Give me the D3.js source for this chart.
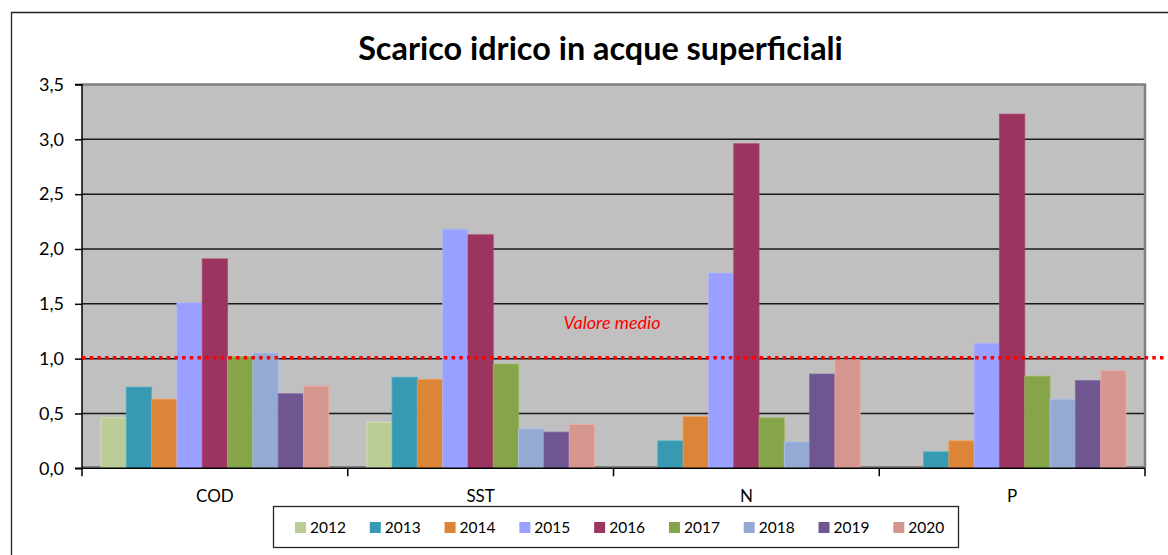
<!DOCTYPE html>
<html>
<head>
<meta charset="utf-8">
<script src="https://cdn.jsdelivr.net/npm/d3@7"></script>
<style>
  html, body { margin: 0; padding: 0; background: #fff; }
  svg { display: block; }
  text { font-family: Lato, "Open Sans", sans-serif; }
</style>
</head>
<body>
<svg id="chart" width="1168" height="555"></svg>
<script>
const categories = ["COD", "SST", "N", "P"];
const years = ["2012", "2013", "2014", "2015", "2016", "2017", "2018", "2019", "2020"];
const v2012 = [0.46, 0.42, 0.00, 0.00];
const v2013 = [0.74, 0.83, 0.25, 0.15];
const v2014 = [0.63, 0.81, 0.47, 0.25];
const v2015 = [1.51, 2.18, 1.78, 1.14];
const v2016 = [1.91, 2.13, 2.96, 3.23];
const v2017 = [1.02, 0.95, 0.46, 0.84];
const v2018 = [1.05, 0.36, 0.24, 0.63];
const v2019 = [0.68, 0.33, 0.86, 0.80];
const v2020 = [0.75, 0.40, 0.99, 0.89];
const yTicks = [0, 0.5, 1.0, 1.5, 2.0, 2.5, 3.0, 3.5];
const meanValue = 1.0;
const meanLabel = "Valore medio";
const title = "Scarico idrico in acque superficiali";

const seriesValues = [v2012, v2013, v2014, v2015, v2016, v2017, v2018, v2019, v2020];
const colors = ["#bbcc96", "#3799b2", "#dc8437", "#9aa0ff", "#9b3560", "#86a44a", "#95aad2", "#6f5690", "#d59690"];

const svg = d3.select("#chart");
const plot = { left: 82, right: 1145, top: 84.5, bottom: 468.3 };

// outer frame
svg.append("path")
  .attr("d", `M11.5,1200 L11.5,12.5 L1300,12.5`)
  .attr("fill", "none").attr("stroke", "#222").attr("stroke-width", 1.3);

const x = d3.scaleBand().domain(categories).range([plot.left, plot.right]).paddingInner(0).paddingOuter(0);
const xi = d3.scaleBand().domain(years).range([0, x.bandwidth()]).paddingInner(0).paddingOuter(0.75);
const y = d3.scaleLinear().domain([0, 3.5]).range([plot.bottom, plot.top]);

// plot background
svg.append("rect")
  .attr("x", plot.left).attr("y", plot.top)
  .attr("width", plot.right - plot.left).attr("height", plot.bottom - plot.top)
  .attr("fill", "#c0c0c0");

// gridlines
svg.append("g").selectAll("line").data(yTicks.filter(d => d > 0 && d < 3.5)).join("line")
  .attr("x1", plot.left).attr("x2", plot.right)
  .attr("y1", d => y(d)).attr("y2", d => y(d))
  .attr("stroke", "#1a1a1a").attr("stroke-width", 1.5);

// top & right border of plot area
svg.append("path")
  .attr("d", `M${plot.left},${plot.top} L${plot.right},${plot.top} L${plot.right},${plot.bottom}`)
  .attr("fill", "none").attr("stroke", "#808080").attr("stroke-width", 2.5);

// floor line
svg.append("line")
  .attr("x1", plot.left).attr("x2", plot.right)
  .attr("y1", y(0) - 1.5).attr("y2", y(0) - 1.5)
  .attr("stroke", "#808080").attr("stroke-width", 1.5);

// bars
const groups = svg.append("g").selectAll("g").data(years).join("g");
groups.each(function(yr, si) {
  d3.select(this).selectAll("rect").data(categories.map((c, ci) => ({ c, v: seriesValues[si][ci] })))
    .join("rect")
    .attr("x", d => x(d.c) + xi(yr))
    .attr("width", xi.bandwidth())
    .attr("y", d => y(d.v))
    .attr("height", d => y(0) - y(d.v))
    .attr("fill", colors[si])
    .attr("stroke", d3.color(colors[si]).brighter(0.4))
    .attr("stroke-opacity", 0.7)
    .attr("stroke-width", 1);
});

// y axis
const yAxis = d3.axisLeft(y).tickValues(yTicks).tickSize(7).tickPadding(11)
  .tickFormat(d => d3.format(".1f")(d).replace(".", ","));
const yg = svg.append("g").attr("transform", `translate(${plot.left},0)`).call(yAxis);
yg.select(".domain").attr("stroke", "#000").attr("stroke-width", 1.5).attr("d", `M-7,${plot.top}H0V${plot.bottom}H-7`);
yg.selectAll(".tick line").attr("stroke", "#000").attr("stroke-width", 1.5);
yg.selectAll(".tick text").attr("font-size", 18).attr("fill", "#000").attr("font-family", "Lato");

// x axis
const xAxis = d3.axisBottom(x).tickSize(0).tickPadding(0);
const xg = svg.append("g").attr("transform", `translate(0,${plot.bottom})`).call(xAxis);
xg.select(".domain").attr("stroke", "#000").attr("stroke-width", 1.5).attr("d", `M${plot.left},0H${plot.right}`);
xg.selectAll(".tick text").attr("font-size", 17).attr("fill", "#000").attr("font-family", "Lato").attr("dy", "0").attr("y", 34);
// boundary ticks between categories
const bounds = categories.map(c => x(c)).concat([x(categories[categories.length - 1]) + x.bandwidth()]);
xg.append("g").selectAll("line").data(bounds).join("line")
  .attr("x1", d => d).attr("x2", d => d).attr("y1", 0).attr("y2", 8)
  .attr("stroke", "#000").attr("stroke-width", 1.5);

// mean line
svg.append("line")
  .attr("x1", plot.left).attr("x2", 1166)
  .attr("y1", y(meanValue) - 1).attr("y2", y(meanValue) - 1)
  .attr("stroke", "#ff0000").attr("stroke-width", 3.5)
  .attr("stroke-dasharray", "3.5 4.2");

svg.append("text")
  .attr("x", 612).attr("y", 329)
  .attr("text-anchor", "middle")
  .attr("font-size", 18).attr("font-style", "italic")
  .attr("fill", "#ff0000")
  .text(meanLabel);

// title
const t = svg.append("text")
  .attr("x", 600.5).attr("y", 59.5)
  .attr("text-anchor", "middle")
  .attr("font-size", 32).attr("font-weight", "bold")
  .attr("fill", "#000")
  .text(title);
const tw = t.node().getComputedTextLength();
t.attr("font-size", 32 * 485 / tw);

// legend
const lg = svg.append("g");
lg.append("rect")
  .attr("x", 273.5).attr("y", 506.5).attr("width", 685).attr("height", 41)
  .attr("fill", "#fff").attr("stroke", "#222").attr("stroke-width", 1.3);
const lx = d3.scalePoint().domain(years).range([295, 893.3]);
const items = lg.selectAll("g").data(years).join("g")
  .attr("transform", d => `translate(${lx(d)},527.5)`);
items.append("rect")
  .attr("x", 0).attr("y", -5.5).attr("width", 11).attr("height", 11)
  .attr("fill", (d, i) => colors[i]);
items.append("text")
  .attr("x", 15).attr("y", 0).attr("dy", "0.36em")
  .attr("font-size", 15.5).attr("fill", "#000")
  .text(d => d);
</script>
</body>
</html>
